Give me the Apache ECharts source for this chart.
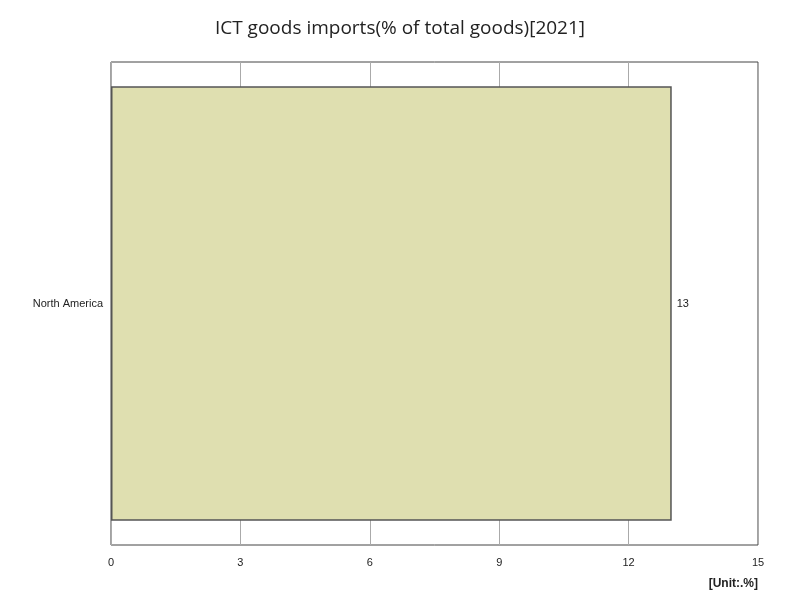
<!DOCTYPE html>
<html><head><meta charset="utf-8">
<script src="https://cdn.jsdelivr.net/npm/echarts@6/dist/echarts.min.js"></script>
<style>html,body{margin:0;padding:0;background:#fff}#c{width:800px;height:600px}</style>
</head><body><div id="c"></div>
<script>
const categories = ["North America"];
const values = [13];
const chart = echarts.init(document.getElementById('c'));
chart.setOption({
  animation:false,
  title:{text:"ICT goods imports(% of total goods)[2021]",left:'center',top:14,textStyle:{fontSize:19,fontWeight:'normal',color:'#222',fontFamily:'Open Sans, sans-serif'}},
  grid:{left:111,right:42,top:62,bottom:55,show:true,borderColor:'#444',borderWidth:1},
  xAxis:{type:'value',min:0,max:15,interval:3,axisLine:{show:false},axisTick:{show:false},
    splitLine:{lineStyle:{color:'#aaa'}},axisLabel:{color:'#222',fontSize:11,margin:12}},
  yAxis:{type:'category',data:categories,axisLine:{show:false},axisTick:{show:false},
    axisLabel:{color:'#222',fontSize:11}},
  graphic:[{type:'text',right:42,bottom:10,style:{text:'[Unit:.%]',font:'bold 12px sans-serif',fill:'#222'}}],
  series:[{type:'bar',data:values,barWidth:'90%',
    itemStyle:{color:'#dfdfb0',borderColor:'#555',borderWidth:1.5},
    label:{show:true,position:'right',color:'#222',fontSize:11}}]
});
</script></body></html>
